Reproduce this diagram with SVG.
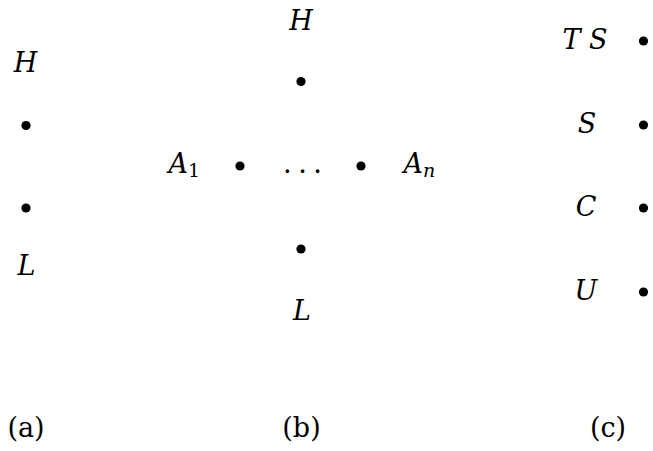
<svg xmlns="http://www.w3.org/2000/svg" width="653" height="451" viewBox="0 0 653 451">
<style>
.m{font-family:"DejaVu Serif",serif;font-style:italic;font-size:27px;text-anchor:middle;fill:#000}
.st{text-anchor:start}
.r{font-family:"DejaVu Serif",serif;font-size:27px;text-anchor:middle;fill:#000}
.s{font-size:19px;font-style:normal}
.si{font-size:19px}
circle{fill:#000}
</style>
<rect width="653" height="451" fill="#fff"/>
<g id="connectors"/>
<g id="a">
<g id="a-H"><text class="m" x="25.5" y="72">H</text><circle cx="26" cy="125.5" r="4.6"/></g>
<g id="a-L"><circle cx="26" cy="208" r="4.6"/><text class="m" x="26.5" y="275">L</text></g>
<text class="r" x="26" y="437">(a)</text>
</g>
<g id="b">
<g id="b-H"><text class="m" x="301" y="30">H</text><circle cx="301" cy="81.5" r="4.6"/></g>
<g id="b-A1"><text class="m st" x="168.5" y="173">A<tspan class="s" dy="4">1</tspan></text><circle cx="240" cy="166" r="4.6"/></g>
<g id="b-dots"><text class="r" x="302" y="173" letter-spacing="-1">. . .</text></g>
<g id="b-An"><circle cx="361" cy="166" r="4.6"/><text class="m st" x="403.5" y="173">A<tspan class="si" dy="4">n</tspan></text></g>
<g id="b-L"><circle cx="301" cy="249" r="4.6"/><text class="m" x="302" y="320">L</text></g>
<text class="r" x="301.5" y="437">(b)</text>
</g>
<g id="c">
<g id="c-TS"><text class="m" x="585" y="49">T S</text><circle cx="643.5" cy="41" r="4.6"/></g>
<g id="c-S"><text class="m" x="587" y="133">S</text><circle cx="643.5" cy="125" r="4.6"/></g>
<g id="c-C"><text class="m" x="586" y="216">C</text><circle cx="643.5" cy="208" r="4.6"/></g>
<g id="c-U"><text class="m" x="586" y="300">U</text><circle cx="643.5" cy="292" r="4.6"/></g>
<text class="r" x="608" y="437">(c)</text>
</g>
</svg>
